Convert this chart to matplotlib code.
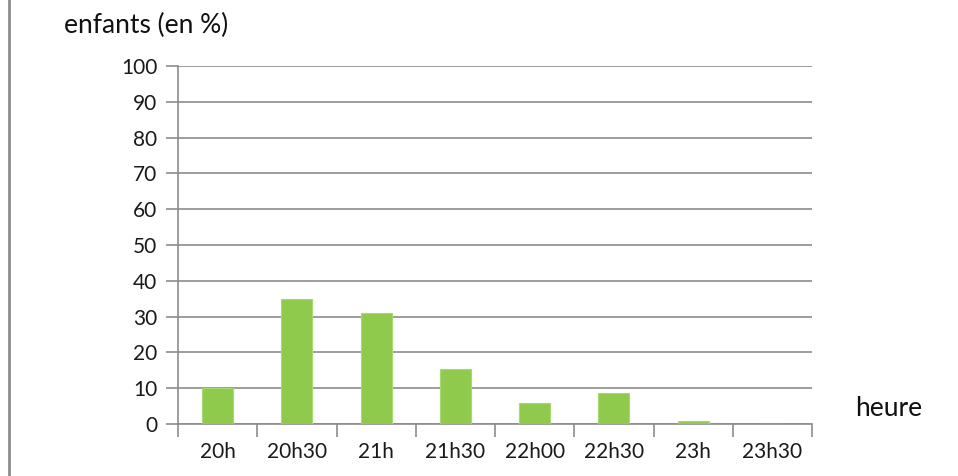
import matplotlib
matplotlib.use("Agg")
import matplotlib.pyplot as plt
import numpy as np
from matplotlib.lines import Line2D

categories = ["20h", "20h30", "21h", "21h30", "22h00", "22h30", "23h", "23h30"]
values = [10, 35, 31, 15.5, 6, 8.7, 0.8, 0]
yticks = [0, 10, 20, 30, 40, 50, 60, 70, 80, 90, 100]

plt.rcParams['font.family'] = ['Lato', 'DejaVu Sans']

fig = plt.figure(figsize=(9.58, 4.76), dpi=100)
ax = fig.add_axes([178/958, 1 - 424/476, (812-178)/958, (424-66)/476])

x = np.arange(len(categories))
ax.bar(x, values, width=0.39, color='#8fca4c', edgecolor='#a6d873', linewidth=0.8, zorder=3)

ax.set_xlim(-0.5, len(categories) - 0.5)
ax.set_ylim(0, 100)
ax.set_yticks(yticks)
ax.set_yticklabels([str(v) for v in yticks], fontsize=15, color='#1a1a1a')
ax.set_xticks(x)
ax.set_xticklabels(categories, fontsize=15, color='#1a1a1a')
ax.set_xticks(np.arange(-0.5, len(categories)), minor=True)

ax.tick_params(axis='x', which='major', length=0, pad=13)
ax.tick_params(axis='x', which='minor', length=9, width=1.2, color='#8c8c8c', direction='out')
ax.tick_params(axis='y', which='major', length=9, width=1.2, color='#8c8c8c', direction='out', pad=6)

ax.grid(axis='y', color='#8c8c8c', linewidth=1.2, zorder=0)
for s in ['top', 'right']:
    ax.spines[s].set_visible(False)
for s in ['left', 'bottom']:
    ax.spines[s].set_color('#8c8c8c')
    ax.spines[s].set_linewidth(1.2)

fig.text(64/958, 1 - 25/476, "enfants (en %)", fontsize=19, color='#111111', ha='left', va='center')
fig.text(855/958, 1 - 408/476, "heure", fontsize=19, color='#111111', ha='left', va='center')

fig.add_artist(Line2D([9/958, 9/958], [0, 1], transform=fig.transFigure, color='#8c8c8c', linewidth=2))

fig.savefig("out.png", dpi=100)
